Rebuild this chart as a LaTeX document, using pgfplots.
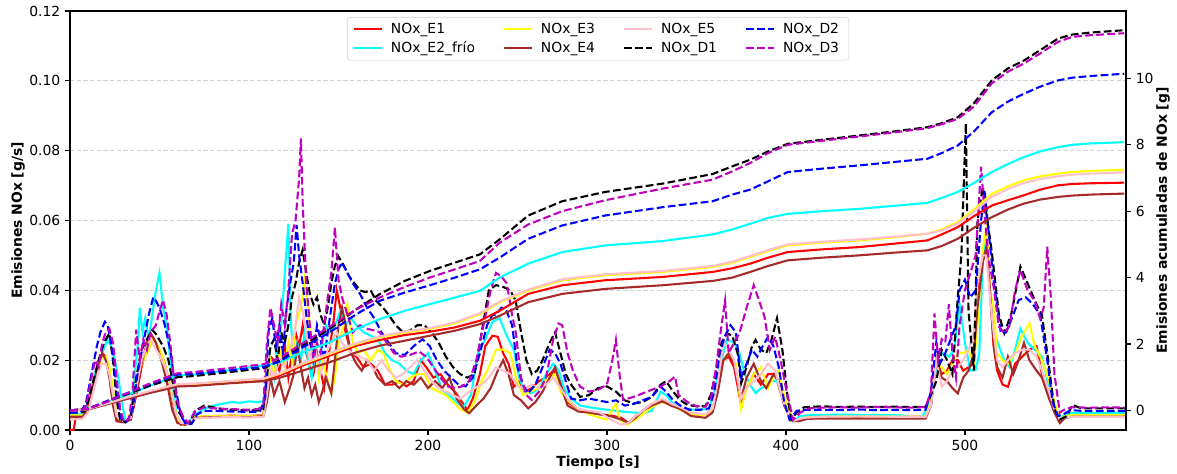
\documentclass[border=0pt]{standalone}
\usepackage{fontspec}
\setmainfont{DejaVu Sans}
\usepackage{pgfplots}
\pgfplotsset{compat=1.18}
\usepackage{pgfplotstable}
\definecolor{mred}{rgb}{1,0,0}
\definecolor{mcyan}{rgb}{0,1,1}
\definecolor{myellow}{rgb}{1,1,0}
\definecolor{mblue}{rgb}{0,0,1}
\definecolor{mbrown}{HTML}{A52A2A}
\definecolor{mpink}{HTML}{FFC0CB}
\definecolor{mmag}{rgb}{0.75,0,0.75}
\definecolor{gridgray}{HTML}{D3D3D3}

\pgfplotstableread{
t     E1    E2    E3    E4    E5    D1    D2    D3
0     0     0     0     0     0     0     0     0
10    0.03  0.04  0.04  0.03  0.04  0.05  0.05  0.05
20    0.18  0.22  0.20  0.18  0.20  0.25  0.27  0.25
30    0.33  0.42  0.35  0.32  0.36  0.45  0.48  0.47
45    0.55  0.75  0.58  0.53  0.59  0.75  0.80  0.82
60    0.75  1.05  0.78  0.72  0.79  1.00  1.08  1.12
70    0.77  1.08  0.80  0.74  0.81  1.04  1.11  1.16
90    0.85  1.22  0.88  0.82  0.89  1.16  1.21  1.28
108   0.92  1.35  0.95  0.88  0.96  1.27  1.31  1.39
117   1.05  1.45  1.10  0.98  1.11  1.50  1.47  1.58
130   1.35  1.75  1.40  1.20  1.42  1.95  1.90  2.02
145   1.65  2.05  1.70  1.45  1.73  2.45  2.35  2.52
160   1.95  2.45  2.00  1.75  2.03  3.05  2.90  3.05
173   2.12  2.75  2.20  1.95  2.23  3.50  3.30  3.40
187   2.27  3.00  2.35  2.10  2.38  3.90  3.55  3.72
201   2.37  3.20  2.45  2.25  2.48  4.20  3.77  4.00
215   2.50  3.40  2.62  2.40  2.65  4.45  4.00  4.25
229   2.70  3.60  2.90  2.60  2.93  4.70  4.25  4.50
240   3.00  4.00  3.25  2.85  3.28  5.15  4.60  5.05
256   3.51  4.42  3.61  3.26  3.64  5.87  5.17  5.60
275   3.77  4.77  3.92  3.51  3.95  6.30  5.57  6.00
299   3.92  4.97  4.07  3.66  4.10  6.58  5.87  6.33
331   4.02  5.10  4.17  3.77  4.20  6.83  6.12  6.68
359   4.17  5.30  4.32  3.90  4.35  7.12  6.30  6.95
370   4.28  5.45  4.45  4.00  4.48  7.35  6.50  7.20
380   4.42  5.62  4.62  4.17  4.65  7.55  6.65  7.45
390   4.60  5.80  4.80  4.35  4.83  7.80  6.90  7.75
401   4.77  5.92  4.97  4.52  5.00  8.03  7.18  8.00
420   4.85  6.00  5.05  4.60  5.08  8.15  7.28  8.12
441   4.92  6.07  5.12  4.67  5.15  8.28  7.38  8.25
460   5.02  6.16  5.21  4.75  5.23  8.40  7.48  8.37
479   5.12  6.25  5.32  4.82  5.32  8.53  7.58  8.50
487   5.30  6.40  5.45  4.95  5.42  8.65  7.75  8.62
496   5.52  6.58  5.67  5.17  5.63  8.83  7.98  8.78
505   5.85  6.85  6.05  5.50  5.98  9.25  8.40  9.15
515   6.17  7.18  6.52  5.82  6.43  9.94  8.98  9.85
524   6.33  7.42  6.75  6.05  6.67  10.30 9.30  10.20
533   6.48  7.63  6.93  6.23  6.85  10.54 9.54  10.45
542   6.65  7.80  7.05  6.35  6.97  10.85 9.75  10.75
552   6.78  7.93  7.13  6.43  7.05  11.20 9.94  11.10
560   6.82  8.00  7.18  6.47  7.10  11.32 10.02 11.25
570   6.84  8.04  7.21  6.50  7.13  11.38 10.07 11.30
589   6.86  8.08  7.25  6.53  7.17  11.45 10.14 11.36
}\cum

\pgfplotsset{
  mybase/.style={
    at={(0,0)}, anchor=south west,
    scale only axis, width=760.3pt, height=301.7pt,
    xmin=0, xmax=590,
    tick align=outside, major tick length=3.5pt,
    tick style={black, line width=0.8pt},
    axis line style={black, line width=0.8pt},
    tick label style={font=\fontsize{10}{12}\selectfont},
    label style={font=\fontsize{10}{12}\selectfont\bfseries},
    /pgf/number format/assume math mode=true,
    no markers,
  },
  sol/.style={line width=1.5pt},
  das/.style={line width=1.5pt, dash pattern=on 5.55pt off 2.4pt},
}

\begin{document}
\begin{tikzpicture}
\path[use as bounding box] (-50.4pt,-30.96pt) rectangle (797.0pt,309.6pt);
\begin{axis}[
  mybase,
  ymin=0, ymax=0.12,
  xtick={0,100,200,300,400,500},
  ytick={0,0.02,0.04,0.06,0.08,0.10,0.12},
  xtick pos=left, ytick pos=left,
  yticklabel style={/pgf/number format/fixed, /pgf/number format/fixed zerofill, /pgf/number format/precision=2},
  scaled y ticks=false,
  ymajorgrids,
  major grid style={gridgray, line width=0.8pt, dash pattern=on 3pt off 1.8pt},
  xlabel={Tiempo [s]},
  xlabel style={at={(axis description cs:0.5,-0.0789)}, anchor=center},
  ylabel={Emisiones NOx [g/s]},
  ylabel style={at={(axis description cs:-0.0492,0.5)}, anchor=center},
  legend columns=2, transpose legend, legend cell align=left,
  legend image code/.code={\draw[#1] (0pt,0pt) -- (20pt,0pt);},
  legend style={at={(0.5,0.9857)}, anchor=north, draw=gray!35, rounded corners=2pt,
    fill=white, fill opacity=0.8, text opacity=1, draw opacity=1,
    font=\fontsize{10}{12}\selectfont, inner xsep=4pt, inner ysep=2.5pt, row sep=1.5pt,
    nodes={inner xsep=3pt, inner ysep=1.5pt},
    /tikz/every even column/.append style={column sep=17pt},
    /tikz/every odd column/.append style={column sep=3pt}},
]
% E1
\addplot[mred, sol] coordinates {(0,0.0000)(2,0.0000)(3,0.0030)(5,0.0035)(8,0.0040)(10,0.0060)(13,0.0130)(16,0.0180)(18,0.0220)(20,0.0210)(22,0.0160)(24,0.0090)(26,0.0030)(30,0.0025)(34,0.0030)(37,0.0100)(40,0.0180)(43,0.0240)(45,0.0277)(47,0.0260)(50,0.0230)(53,0.0190)(56,0.0120)(59,0.0040)(62,0.0015)(66,0.0018)(70,0.0036)(80,0.0040)(90,0.0041)(100,0.0040)(108,0.0043)(110,0.0120)(112,0.0210)(114,0.0200)(117,0.0170)(120,0.0250)(122,0.0150)(124,0.0220)(126,0.0280)(128,0.0240)(130,0.0300)(132,0.0220)(134,0.0180)(136,0.0160)(138,0.0220)(140,0.0170)(142,0.0120)(144,0.0200)(147,0.0300)(149,0.0400)(151,0.0350)(154,0.0280)(157,0.0220)(160,0.0210)(164,0.0180)(168,0.0190)(172,0.0170)(176,0.0130)(180,0.0130)(184,0.0140)(188,0.0125)(192,0.0140)(196,0.0200)(199,0.0180)(203,0.0150)(207,0.0160)(211,0.0130)(215,0.0110)(219,0.0080)(222,0.0057)(225,0.0090)(229,0.0160)(232,0.0240)(236,0.0270)(239,0.0267)(242,0.0220)(245,0.0190)(248,0.0124)(251,0.0140)(254,0.0110)(258,0.0120)(262,0.0140)(266,0.0150)(270,0.0170)(274,0.0140)(278,0.0080)(284,0.0060)(290,0.0050)(296,0.0045)(302,0.0042)(308,0.0035)(312,0.0020)(316,0.0040)(320,0.0055)(325,0.0075)(331,0.0082)(336,0.0070)(341,0.0060)(347,0.0045)(355,0.0044)(359,0.0060)(362,0.0120)(365,0.0200)(368,0.0210)(371,0.0180)(375,0.0070)(378,0.0120)(382,0.0160)(386,0.0130)(390,0.0160)(394,0.0160)(398,0.0090)(401,0.0050)(405,0.0025)(410,0.0035)(420,0.0038)(440,0.0038)(460,0.0038)(478,0.0038)(481,0.0070)(484,0.0200)(487,0.0160)(490,0.0170)(493,0.0200)(496,0.0200)(499,0.0170)(502,0.0180)(505,0.0190)(507,0.0400)(510,0.0500)(512,0.0563)(514,0.0400)(516,0.0240)(518,0.0170)(521,0.0130)(524,0.0124)(528,0.0190)(532,0.0210)(536,0.0230)(540,0.0240)(543,0.0160)(547,0.0110)(550,0.0060)(553,0.0030)(556,0.0037)(560,0.0038)(575,0.0038)(590,0.0038)};
\addlegendentry{NOx\_E1}
% E2
\addplot[mcyan, sol] coordinates {(0,0.0045)(6,0.0045)(9,0.0060)(12,0.0120)(15,0.0180)(18,0.0220)(21,0.0260)(23,0.0240)(25,0.0200)(27,0.0150)(29,0.0080)(31,0.0025)(34,0.0030)(36,0.0150)(38,0.0250)(39,0.0350)(40.5,0.0280)(42,0.0320)(44,0.0260)(46,0.0330)(48,0.0400)(50,0.0450)(52,0.0350)(54,0.0300)(56,0.0200)(58,0.0100)(60,0.0030)(63,0.0015)(66,0.0020)(70,0.0045)(75,0.0060)(80,0.0070)(85,0.0075)(90,0.0080)(95,0.0078)(100,0.0082)(105,0.0080)(108,0.0082)(110,0.0150)(112,0.0200)(114,0.0150)(116,0.0250)(118,0.0300)(120,0.0450)(122,0.0590)(123.5,0.0300)(125,0.0200)(127,0.0250)(129,0.0200)(131,0.0280)(133,0.0200)(135,0.0150)(137,0.0220)(139,0.0180)(141,0.0250)(143,0.0300)(145,0.0280)(148,0.0300)(151,0.0340)(154,0.0300)(157,0.0320)(160,0.0300)(164,0.0280)(168,0.0270)(172,0.0260)(176,0.0220)(180,0.0200)(184,0.0190)(188,0.0170)(192,0.0160)(196,0.0200)(200,0.0220)(204,0.0170)(208,0.0115)(212,0.0100)(216,0.0080)(220,0.0067)(224,0.0100)(228,0.0220)(232,0.0260)(236,0.0310)(240,0.0320)(244,0.0270)(248,0.0230)(251,0.0150)(254,0.0110)(258,0.0105)(262,0.0120)(266,0.0160)(270,0.0190)(273,0.0170)(276,0.0120)(280,0.0090)(285,0.0070)(290,0.0065)(300,0.0058)(310,0.0052)(320,0.0048)(325,0.0055)(330,0.0110)(333,0.0100)(337,0.0075)(342,0.0060)(350,0.0058)(357,0.0060)(360,0.0110)(364,0.0200)(367,0.0260)(371,0.0250)(374,0.0220)(377,0.0160)(380,0.0130)(383,0.0105)(386,0.0120)(389,0.0125)(392,0.0140)(395,0.0140)(398,0.0100)(401,0.0060)(404,0.0025)(408,0.0040)(415,0.0043)(430,0.0044)(450,0.0043)(465,0.0042)(472,0.0036)(476,0.0040)(479,0.0060)(482,0.0120)(485,0.0210)(488,0.0220)(491,0.0210)(494,0.0230)(497,0.0360)(500,0.0250)(503,0.0170)(506,0.0172)(508,0.0220)(510,0.0490)(511.5,0.0544)(513,0.0450)(516,0.0280)(519,0.0240)(522,0.0200)(525,0.0180)(528,0.0230)(531,0.0290)(535,0.0250)(539,0.0230)(543,0.0210)(547,0.0120)(550,0.0060)(553,0.0030)(556,0.0045)(560,0.0048)(575,0.0048)(590,0.0048)};
\addlegendentry{NOx\_E2\_frío}
% E3
\addplot[myellow, sol] coordinates {(0,0.0042)(7,0.0042)(10,0.0060)(13,0.0120)(16,0.0180)(18,0.0210)(20,0.0210)(22,0.0180)(24,0.0120)(26,0.0050)(28,0.0025)(32,0.0025)(35,0.0070)(38,0.0160)(41,0.0200)(44,0.0230)(46,0.0260)(48,0.0250)(51,0.0220)(54,0.0170)(57,0.0100)(60,0.0030)(63,0.0015)(67,0.0020)(70,0.0038)(80,0.0040)(90,0.0041)(100,0.0040)(108,0.0042)(110,0.0120)(112,0.0200)(114,0.0160)(117,0.0230)(120,0.0180)(122,0.0250)(124,0.0200)(126,0.0300)(129,0.0350)(131,0.0430)(133,0.0350)(135,0.0200)(137,0.0250)(139,0.0150)(141,0.0200)(143,0.0160)(146,0.0105)(148,0.0150)(150,0.0250)(153,0.0300)(155,0.0360)(158,0.0250)(161,0.0220)(164,0.0230)(168,0.0200)(172,0.0230)(175,0.0220)(178,0.0180)(182,0.0140)(186,0.0130)(190,0.0150)(194,0.0160)(198,0.0160)(202,0.0120)(206,0.0110)(210,0.0100)(214,0.0080)(218,0.0060)(222,0.0050)(226,0.0080)(230,0.0140)(234,0.0180)(238,0.0230)(242,0.0230)(246,0.0220)(249,0.0153)(253,0.0100)(257,0.0110)(262,0.0120)(267,0.0150)(271,0.0160)(274,0.0110)(278,0.0085)(284,0.0060)(290,0.0045)(296,0.0035)(300,0.0030)(303,0.0060)(305,0.0075)(307,0.0030)(311,0.0015)(316,0.0030)(320,0.0045)(325,0.0065)(330,0.0080)(335,0.0075)(340,0.0060)(347,0.0045)(355,0.0043)(359,0.0060)(362,0.0120)(365,0.0200)(368,0.0220)(372,0.0190)(375,0.0060)(378,0.0120)(382,0.0160)(386,0.0180)(390,0.0120)(393,0.0150)(396,0.0170)(399,0.0100)(402,0.0050)(405,0.0025)(410,0.0035)(420,0.0038)(440,0.0038)(460,0.0038)(478,0.0038)(481,0.0080)(484,0.0210)(487,0.0180)(490,0.0160)(493,0.0190)(496,0.0220)(499,0.0220)(502,0.0230)(505,0.0190)(507,0.0300)(510,0.0520)(512,0.0580)(514,0.0400)(516,0.0350)(518,0.0220)(521,0.0200)(524,0.0190)(528,0.0220)(532,0.0270)(536,0.0305)(539,0.0240)(543,0.0200)(547,0.0140)(550,0.0080)(553,0.0030)(556,0.0040)(560,0.0043)(575,0.0043)(590,0.0043)};
\addlegendentry{NOx\_E3}
% E4
\addplot[mbrown, sol] coordinates {(0,0.0038)(7,0.0038)(10,0.0060)(13,0.0130)(16,0.0190)(18,0.0220)(20,0.0200)(22,0.0150)(24,0.0070)(26,0.0025)(30,0.0022)(34,0.0030)(37,0.0110)(40,0.0190)(43,0.0250)(45,0.0277)(48,0.0250)(51,0.0200)(54,0.0140)(57,0.0060)(60,0.0020)(64,0.0015)(68,0.0020)(70,0.0035)(80,0.0037)(90,0.0038)(100,0.0037)(108,0.0040)(110,0.0080)(112,0.0150)(114,0.0100)(117,0.0140)(120,0.0080)(123,0.0124)(125,0.0160)(127,0.0240)(129,0.0180)(131,0.0120)(133,0.0150)(135,0.0100)(137,0.0130)(139,0.0080)(141,0.0110)(143,0.0150)(146,0.0105)(148,0.0200)(150,0.0300)(152,0.0350)(154,0.0300)(157,0.0220)(160,0.0190)(163,0.0170)(166,0.0200)(169,0.0180)(172,0.0150)(176,0.0130)(180,0.0140)(184,0.0120)(188,0.0140)(192,0.0130)(196,0.0150)(200,0.0120)(204,0.0140)(208,0.0120)(212,0.0150)(216,0.0090)(220,0.0060)(223,0.0048)(227,0.0070)(231,0.0090)(235,0.0120)(239,0.0170)(242,0.0200)(245,0.0160)(248,0.0100)(252,0.0085)(256,0.0062)(260,0.0080)(264,0.0110)(268,0.0150)(271,0.0180)(274,0.0130)(278,0.0070)(284,0.0053)(290,0.0050)(296,0.0045)(302,0.0040)(308,0.0030)(312,0.0020)(316,0.0035)(320,0.0055)(325,0.0070)(331,0.0082)(336,0.0070)(341,0.0060)(347,0.0040)(355,0.0035)(359,0.0050)(362,0.0110)(365,0.0200)(368,0.0220)(371,0.0190)(375,0.0090)(378,0.0150)(382,0.0190)(386,0.0140)(389,0.0120)(393,0.0160)(396,0.0140)(399,0.0070)(403,0.0030)(407,0.0025)(412,0.0032)(420,0.0033)(440,0.0033)(460,0.0033)(478,0.0033)(481,0.0070)(484,0.0200)(487,0.0150)(490,0.0140)(493,0.0120)(496,0.0105)(499,0.0150)(502,0.0170)(505,0.0220)(507,0.0350)(510,0.0480)(512,0.0525)(514,0.0400)(516,0.0250)(518,0.0180)(521,0.0150)(524,0.0210)(527,0.0160)(530,0.0200)(533,0.0250)(536,0.0200)(540,0.0170)(543,0.0150)(547,0.0090)(550,0.0050)(553,0.0020)(556,0.0035)(560,0.0038)(575,0.0038)(590,0.0038)};
\addlegendentry{NOx\_E4}
% E5
\addplot[mpink, sol] coordinates {(0,0.0030)(7,0.0032)(10,0.0050)(13,0.0110)(16,0.0170)(18,0.0190)(20,0.0190)(22,0.0160)(24,0.0100)(26,0.0040)(30,0.0025)(34,0.0035)(37,0.0120)(40,0.0200)(43,0.0240)(45,0.0260)(48,0.0230)(50,0.0215)(53,0.0180)(56,0.0130)(59,0.0050)(62,0.0020)(66,0.0018)(70,0.0033)(80,0.0036)(90,0.0037)(100,0.0036)(108,0.0038)(110,0.0100)(112,0.0180)(114,0.0150)(117,0.0200)(120,0.0180)(122,0.0220)(124,0.0250)(126,0.0300)(128,0.0380)(130,0.0340)(132,0.0280)(134,0.0200)(136,0.0260)(138,0.0200)(140,0.0160)(143,0.0220)(146,0.0250)(149,0.0280)(152,0.0250)(155,0.0230)(158,0.0220)(162,0.0210)(166,0.0200)(170,0.0170)(174,0.0200)(178,0.0170)(182,0.0150)(186,0.0160)(190,0.0180)(194,0.0200)(198,0.0170)(202,0.0140)(206,0.0120)(210,0.0110)(214,0.0100)(218,0.0090)(222,0.0105)(226,0.0120)(230,0.0130)(234,0.0150)(238,0.0180)(242,0.0170)(246,0.0160)(250,0.0125)(254,0.0120)(258,0.0130)(262,0.0120)(266,0.0130)(270,0.0150)(274,0.0120)(278,0.0090)(284,0.0060)(290,0.0055)(296,0.0050)(302,0.0030)(308,0.0015)(312,0.0020)(316,0.0040)(320,0.0055)(325,0.0075)(331,0.0090)(336,0.0075)(341,0.0065)(347,0.0050)(355,0.0045)(359,0.0060)(362,0.0140)(365,0.0250)(368,0.0230)(371,0.0200)(375,0.0090)(378,0.0120)(382,0.0140)(386,0.0160)(390,0.0190)(394,0.0170)(398,0.0090)(401,0.0050)(405,0.0028)(410,0.0035)(420,0.0038)(440,0.0039)(460,0.0038)(478,0.0038)(481,0.0070)(484,0.0200)(487,0.0124)(490,0.0140)(493,0.0170)(496,0.0180)(499,0.0200)(502,0.0230)(505,0.0280)(507,0.0420)(510,0.0500)(512,0.0500)(514,0.0380)(516,0.0280)(518,0.0200)(521,0.0180)(524,0.0200)(528,0.0220)(532,0.0230)(536,0.0230)(540,0.0210)(543,0.0170)(547,0.0110)(550,0.0060)(553,0.0030)(556,0.0037)(560,0.0038)(575,0.0038)(590,0.0038)};
\addlegendentry{NOx\_E5}
% D1
\addplot[black, das] coordinates {(0,0.0050)(5,0.0050)(8,0.0052)(10,0.0080)(13,0.0140)(16,0.0200)(19,0.0250)(22,0.0277)(24,0.0200)(26,0.0090)(28,0.0030)(31,0.0022)(34,0.0040)(37,0.0150)(40,0.0230)(43,0.0260)(46,0.0287)(48,0.0275)(52,0.0240)(55,0.0200)(58,0.0120)(61,0.0050)(64,0.0025)(67,0.0020)(70,0.0055)(75,0.0070)(80,0.0065)(85,0.0060)(90,0.0058)(95,0.0057)(100,0.0056)(105,0.0056)(108,0.0060)(110,0.0150)(112,0.0240)(114,0.0260)(116,0.0200)(118,0.0280)(120,0.0250)(122,0.0300)(124,0.0380)(126,0.0420)(128,0.0480)(130,0.0516)(132,0.0450)(134,0.0390)(136,0.0360)(138,0.0380)(140,0.0330)(142,0.0300)(144,0.0350)(146,0.0420)(148,0.0470)(150,0.0497)(153,0.0470)(156,0.0440)(159,0.0420)(162,0.0400)(165,0.0395)(168,0.0400)(171,0.0370)(175,0.0350)(178,0.0330)(182,0.0300)(186,0.0280)(190,0.0285)(194,0.0300)(198,0.0300)(202,0.0280)(206,0.0250)(210,0.0210)(214,0.0180)(218,0.0160)(222,0.0150)(226,0.0160)(230,0.0280)(234,0.0400)(238,0.0415)(242,0.0410)(246,0.0400)(249,0.0370)(252,0.0280)(255,0.0200)(258,0.0160)(261,0.0170)(264,0.0200)(268,0.0250)(271,0.0280)(274,0.0220)(277,0.0160)(280,0.0130)(285,0.0095)(290,0.0100)(295,0.0120)(300,0.0125)(305,0.0110)(310,0.0085)(315,0.0076)(320,0.0080)(325,0.0095)(330,0.0130)(333,0.0140)(337,0.0110)(341,0.0085)(345,0.0072)(350,0.0068)(355,0.0068)(358,0.0100)(361,0.0170)(364,0.0250)(367,0.0277)(370,0.0270)(373,0.0220)(375,0.0134)(378,0.0180)(381,0.0240)(383,0.0258)(386,0.0230)(389,0.0220)(392,0.0260)(395,0.0320)(398,0.0230)(401,0.0090)(403,0.0030)(406,0.0050)(410,0.0065)(420,0.0068)(430,0.0066)(440,0.0067)(450,0.0066)(460,0.0067)(470,0.0066)(478,0.0066)(481,0.0100)(484,0.0140)(487,0.0230)(490,0.0200)(493,0.0160)(496,0.0380)(498,0.0500)(500.5,0.0878)(502,0.0340)(505,0.0170)(507,0.0600)(510,0.0697)(512,0.0620)(515,0.0510)(519,0.0330)(522,0.0277)(526,0.0335)(531,0.0468)(535,0.0420)(540,0.0360)(543,0.0330)(546,0.0220)(550,0.0060)(553,0.0030)(557,0.0040)(560,0.0072)(565,0.0062)(570,0.0062)(580,0.0062)(590,0.0062)};
\addlegendentry{NOx\_D1}
% D2
\addplot[mblue, das] coordinates {(0,0.0050)(6,0.0050)(9,0.0080)(12,0.0160)(15,0.0240)(17,0.0280)(19.5,0.0310)(21,0.0300)(23,0.0250)(25,0.0170)(27,0.0080)(29,0.0025)(32,0.0025)(35,0.0060)(38,0.0170)(41,0.0250)(44,0.0330)(46.5,0.0380)(48,0.0370)(50,0.0350)(53,0.0300)(56,0.0230)(59,0.0120)(62,0.0040)(65,0.0015)(68,0.0018)(71,0.0045)(75,0.0055)(80,0.0055)(90,0.0053)(100,0.0052)(106,0.0052)(109,0.0090)(111,0.0286)(113,0.0320)(115,0.0240)(117,0.0300)(119,0.0220)(121,0.0350)(123,0.0420)(125,0.0480)(126.6,0.0587)(128,0.0500)(130,0.0420)(132,0.0330)(134,0.0250)(136,0.0220)(138,0.0300)(140,0.0260)(142,0.0200)(144,0.0280)(146,0.0350)(148,0.0420)(150,0.0460)(152,0.0480)(155,0.0450)(158,0.0420)(162,0.0390)(166,0.0350)(170,0.0320)(174,0.0280)(178,0.0250)(182,0.0220)(187,0.0215)(192,0.0240)(197,0.0260)(201,0.0240)(205,0.0200)(209,0.0170)(213,0.0150)(217,0.0130)(221,0.0125)(225,0.0150)(229,0.0220)(233,0.0300)(236,0.0330)(238,0.0330)(241,0.0350)(244,0.0340)(247,0.0300)(250,0.0180)(253,0.0130)(256,0.0105)(260,0.0130)(264,0.0180)(268,0.0230)(271,0.0220)(274,0.0190)(277,0.0140)(280,0.0090)(285,0.0085)(290,0.0090)(295,0.0085)(300,0.0080)(305,0.0085)(310,0.0070)(315,0.0075)(320,0.0085)(325,0.0095)(330,0.0124)(333,0.0110)(337,0.0085)(341,0.0070)(346,0.0058)(352,0.0058)(357,0.0062)(360,0.0110)(363,0.0220)(366,0.0270)(369,0.0300)(372,0.0280)(375,0.0150)(378,0.0190)(381,0.0230)(384,0.0210)(387,0.0240)(390,0.0267)(393,0.0240)(396,0.0180)(399,0.0080)(402,0.0030)(406,0.0055)(412,0.0058)(420,0.0058)(430,0.0057)(440,0.0059)(450,0.0057)(460,0.0058)(470,0.0057)(478,0.0058)(481,0.0110)(484,0.0250)(486,0.0190)(489,0.0220)(492,0.0260)(495,0.0300)(497,0.0400)(500,0.0430)(503,0.0380)(506,0.0400)(509,0.0600)(511,0.0687)(513,0.0580)(516,0.0430)(520,0.0280)(523,0.0280)(527,0.0330)(530,0.0372)(534,0.0380)(538,0.0360)(542,0.0330)(546,0.0200)(549,0.0080)(552,0.0040)(555,0.0045)(559,0.0057)(565,0.0055)(575,0.0054)(590,0.0054)};
\addlegendentry{NOx\_D2}
% D3
\addplot[mmag, das] coordinates {(0,0.0055)(6,0.0055)(9,0.0070)(12,0.0150)(14,0.0200)(16,0.0180)(18,0.0250)(20,0.0280)(22,0.0290)(24,0.0250)(26,0.0150)(28,0.0060)(30,0.0025)(33,0.0030)(35,0.0120)(37,0.0287)(39,0.0200)(41,0.0260)(43,0.0230)(45,0.0280)(48,0.0300)(50,0.0340)(52,0.0372)(54,0.0330)(56,0.0250)(58,0.0150)(60,0.0080)(63,0.0040)(66,0.0020)(70,0.0055)(75,0.0065)(80,0.0062)(90,0.0060)(100,0.0058)(105,0.0060)(108,0.0070)(110,0.0250)(112,0.0350)(114,0.0300)(116,0.0250)(118,0.0360)(120,0.0300)(122,0.0400)(124,0.0560)(126,0.0600)(128,0.0720)(129,0.0835)(130,0.0650)(132,0.0420)(134,0.0300)(136,0.0200)(138,0.0250)(140,0.0220)(142,0.0300)(144,0.0380)(146,0.0450)(148,0.0580)(150,0.0430)(152,0.0380)(155,0.0330)(158,0.0280)(162,0.0300)(166,0.0290)(170,0.0285)(173,0.0280)(177,0.0250)(181,0.0220)(185,0.0210)(190,0.0215)(195,0.0225)(199,0.0210)(203,0.0180)(207,0.0150)(211,0.0125)(215,0.0120)(219,0.0125)(223,0.0140)(227,0.0200)(231,0.0300)(235,0.0400)(238,0.0450)(241,0.0440)(244,0.0420)(247,0.0330)(249,0.0280)(252,0.0150)(255,0.0100)(258,0.0086)(262,0.0110)(266,0.0150)(270,0.0260)(273,0.0305)(275,0.0300)(278,0.0220)(281,0.0170)(285,0.0124)(290,0.0110)(295,0.0115)(300,0.0130)(303,0.0200)(305,0.0258)(307,0.0160)(309,0.0086)(315,0.0095)(320,0.0105)(325,0.0115)(330,0.0125)(335,0.0140)(338,0.0153)(340,0.0100)(345,0.0080)(350,0.0068)(355,0.0067)(358,0.0090)(361,0.0180)(364,0.0300)(366,0.0370)(368,0.0220)(371,0.0250)(374,0.0277)(378,0.0350)(382,0.0415)(385,0.0370)(388,0.0325)(391,0.0230)(394,0.0267)(397,0.0200)(400,0.0120)(404,0.0029)(408,0.0050)(413,0.0062)(420,0.0064)(430,0.0065)(440,0.0064)(450,0.0066)(460,0.0065)(470,0.0064)(478,0.0066)(481,0.0110)(483,0.0334)(485,0.0200)(487,0.0260)(489,0.0250)(491,0.0360)(493,0.0220)(495,0.0150)(497,0.0300)(500,0.0400)(503,0.0450)(506,0.0500)(509,0.0754)(511,0.0620)(513,0.0500)(516,0.0410)(519,0.0296)(522,0.0277)(525,0.0300)(528,0.0400)(531,0.0458)(535,0.0400)(539,0.0370)(542,0.0320)(544,0.0350)(546,0.0525)(548,0.0380)(550,0.0160)(553,0.0050)(556,0.0060)(560,0.0065)(570,0.0064)(580,0.0065)(590,0.0064)};
\addlegendentry{NOx\_D3}
\end{axis}

\begin{axis}[
  mybase,
  ymin=-0.59, ymax=12.03,
  axis x line=none, axis y line*=right,
  ytick={0,2,4,6,8,10},
  ylabel={Emisiones acumuladas de NOx [g]},
  ylabel style={at={(axis description cs:1.035,0.5)}, anchor=center, rotate=0},
]
\addplot[mred, sol] table[x=t, y=E1] {\cum};
\addplot[mcyan, sol] table[x=t, y=E2] {\cum};
\addplot[myellow, sol] table[x=t, y=E3] {\cum};
\addplot[mbrown, sol] table[x=t, y=E4] {\cum};
\addplot[mpink, sol] table[x=t, y=E5] {\cum};
\addplot[black, das] table[x=t, y=D1] {\cum};
\addplot[mblue, das] table[x=t, y=D2] {\cum};
\addplot[mmag, das] table[x=t, y=D3] {\cum};
\end{axis}
\end{tikzpicture}
\end{document}
